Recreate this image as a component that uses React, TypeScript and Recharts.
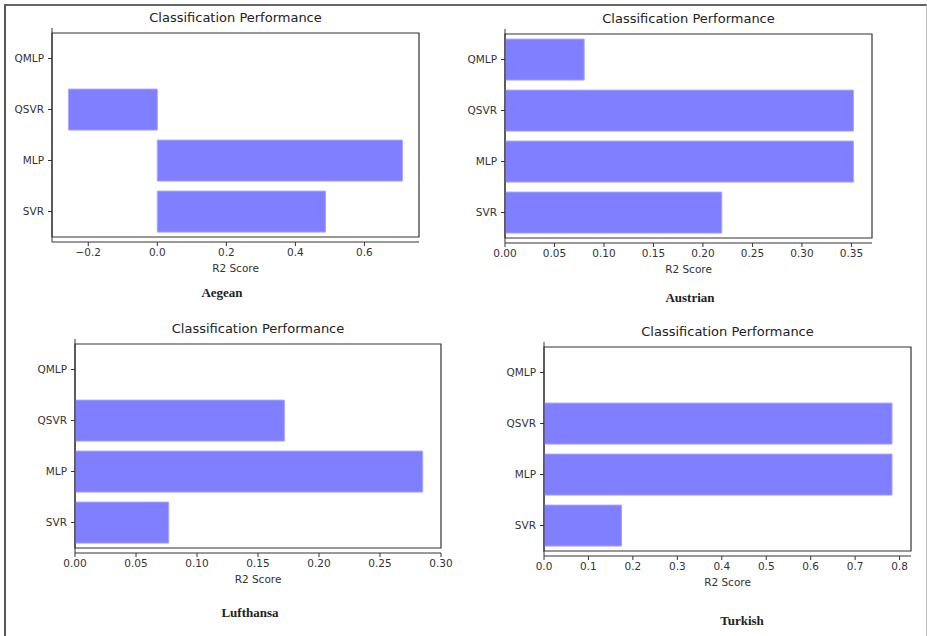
import React from "react";
import { BarChart, Bar, XAxis, YAxis, ReferenceArea } from "recharts";

const categories = ["QMLP", "QSVR", "MLP", "SVR"];
const aegeanScores = [0, -0.257, 0.71, 0.487];
const austrianScores = [0.08, 0.352, 0.352, 0.219];
const lufthansaScores = [0, 0.1716, 0.285, 0.0768];
const turkishScores = [0, 0.783, 0.783, 0.1744];

const aegeanTicks = [-0.2, 0, 0.2, 0.4, 0.6];
const austrianTicks = [0, 0.05, 0.1, 0.15, 0.2, 0.25, 0.3, 0.35];
const lufthansaTicks = [0, 0.05, 0.1, 0.15, 0.2, 0.25, 0.3];
const turkishTicks = [0, 0.1, 0.2, 0.3, 0.4, 0.5, 0.6, 0.7, 0.8];

const chartTitle = "Classification Performance";
const axisTitle = "R2 Score";

const FONT = "'DejaVu Sans', sans-serif";
const SPINE = "#333";

type PanelProps = {
  left: number;
  top: number;
  width: number;
  height: number;
  yAxisWidth: number;
  margin: { top: number; right: number; bottom: number; left: number };
  scores: number[];
  ticks: number[];
  domain: [number, number];
  decimals: number;
  caption: string;
  captionX: number;
  captionY: number;
};

function fmt(v: number, d: number) {
  const s = Math.abs(v).toFixed(d);
  return v < -1e-9 ? "\u2212" + s : s;
}

function Panel(p: PanelProps) {
  const data = categories.map((c, i) => ({ name: c, score: p.scores[i] }));
  const boxLeft = p.margin.left + p.yAxisWidth;
  const boxRight = p.width - p.margin.right;
  const boxTop = p.margin.top;
  return (
    <>
      <div
        style={{
          position: "absolute",
          left: p.left,
          top: p.top,
          width: p.width,
          height: p.height,
        }}
      >
        <div
          style={{
            position: "absolute",
            left: boxLeft,
            width: boxRight - boxLeft,
            top: boxTop - 17,
            textAlign: "center",
            fontFamily: FONT,
            fontSize: 13,
            lineHeight: "13px",
            color: "#222",
            whiteSpace: "nowrap",
          }}
        >
          {chartTitle}
        </div>
        <BarChart
          width={p.width}
          height={p.height}
          data={data}
          layout="vertical"
          margin={p.margin}
          barCategoryGap="10%"
        >
          <XAxis
            type="number"
            dataKey="score"
            domain={p.domain}
            ticks={p.ticks}
            allowDataOverflow
            tickFormatter={(v: number) => fmt(v, p.decimals)}
            tick={{ fill: "#333", fontSize: 10.5, fontFamily: FONT }}
            tickSize={4}
            tickMargin={3}
            axisLine={{ stroke: SPINE }}
            tickLine={{ stroke: SPINE }}
            height={34}
            label={{
              value: axisTitle,
              position: "insideBottom",
              offset: 4,
              fill: "#333",
              fontSize: 10.5,
              fontFamily: FONT,
            }}
          />
          <YAxis
            type="category"
            dataKey="name"
            width={p.yAxisWidth}
            padding={{ top: 5, bottom: 5 }}
            tick={{ fill: "#333", fontSize: 10.5, fontFamily: FONT }}
            tickSize={4}
            tickMargin={4}
            axisLine={{ stroke: SPINE }}
            tickLine={{ stroke: SPINE }}
          />
          <Bar
            dataKey="score"
            fill="#7f7fff"
            stroke="#a5a5ff"
            strokeWidth={1}
            isAnimationActive={false}
          />
          <ReferenceArea
            x1={p.domain[0]}
            x2={p.domain[1]}
            fill="none"
            fillOpacity={0}
            stroke={SPINE}
            strokeWidth={1.2}
            ifOverflow="visible"
          />
        </BarChart>
      </div>
      <div
        style={{
          position: "absolute",
          left: p.captionX - 60,
          width: 120,
          top: p.captionY - 8,
          textAlign: "center",
          fontFamily: "'Liberation Serif', serif",
          fontWeight: "bold",
          fontSize: 13,
          lineHeight: "16px",
          color: "#222",
        }}
      >
        {p.caption}
      </div>
    </>
  );
}

export default function App() {
  return (
    <div
      style={{
        position: "absolute",
        left: 0,
        top: 0,
        width: 927,
        height: 636,
        overflow: "hidden",
        background: "#fff",
      }}
    >
      <div
        style={{
          position: "absolute",
          left: 4,
          top: 4,
          width: 920,
          height: 700,
          borderTop: "2px solid #666",
          borderLeft: "2px solid #555",
          borderRight: "1.5px solid #bbb",
        }}
      />
      <Panel
        left={0}
        top={0}
        width={460}
        height={300}
        yAxisWidth={52}
        margin={{ top: 28, right: 41, bottom: 24, left: 0 }}
        scores={aegeanScores}
        ticks={aegeanTicks}
        domain={[-0.305, 0.758]}
        decimals={1}
        caption="Aegean"
        captionX={222}
        captionY={293}
      />
      <Panel
        left={460}
        top={0}
        width={460}
        height={300}
        yAxisWidth={45}
        margin={{ top: 29, right: 48, bottom: 23, left: 0 }}
        scores={austrianScores}
        ticks={austrianTicks}
        domain={[0, 0.3708]}
        decimals={2}
        caption="Austrian"
        captionX={690}
        captionY={298}
      />
      <Panel
        left={0}
        top={310}
        width={460}
        height={300}
        yAxisWidth={75}
        margin={{ top: 29, right: 19, bottom: 23, left: 0 }}
        scores={lufthansaScores}
        ticks={lufthansaTicks}
        domain={[0, 0.3]}
        decimals={2}
        caption="Lufthansa"
        captionX={250}
        captionY={613}
      />
      <Panel
        left={460}
        top={310}
        width={467}
        height={300}
        yAxisWidth={84}
        margin={{ top: 32, right: 16, bottom: 20, left: 0 }}
        scores={turkishScores}
        ticks={turkishTicks}
        domain={[0, 0.8257]}
        decimals={1}
        caption="Turkish"
        captionX={742}
        captionY={621}
      />
    </div>
  );
}
